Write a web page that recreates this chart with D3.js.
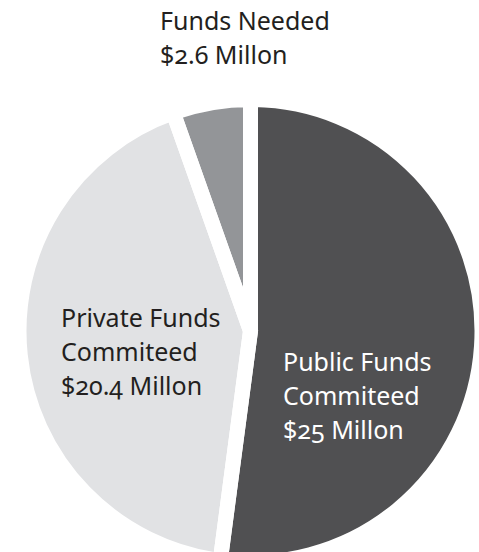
<!DOCTYPE html>
<html>
<head>
<meta charset="utf-8">
<script src="https://cdn.jsdelivr.net/npm/d3@7"></script>
<style>
  html, body { margin: 0; padding: 0; background: #fff; }
  svg text { font-family: "Noto Sans", sans-serif; font-feature-settings: "onum" 1; font-variant-numeric: oldstyle-nums; }
</style>
</head>
<body>
<svg id="chart" width="479" height="552"></svg>
<script>
const categories = ["Public Funds Commiteed", "Private Funds Commiteed", "Funds Needed"];
const values = [25, 20.4, 2.6];
const labelLines = [
  ["Public Funds", "Commiteed", "$25 Millon"],
  ["Private Funds", "Commiteed", "$20.4 Millon"],
  ["Funds Needed", "$2.6 Millon"]
];
const colors = ["#505052", "#e1e2e4", "#939598"];
const textColors = ["#ffffff", "#231f20", "#231f20"];

const svg = d3.select("#chart");
const cx = 250.5, cy = 331, R = 231.5;
const g = svg.append("g").attr("transform", `translate(${cx},${cy})`);

const data = categories.map((c, i) => ({ name: c, value: values[i], i }));
const pie = d3.pie().sort(null).value(d => d.value);
const arc = d3.arc().innerRadius(0).outerRadius(R);
const arcs = pie(data);

g.selectAll("path.fill").data(arcs).join("path")
  .attr("class", "fill")
  .attr("d", arc)
  .attr("fill", d => colors[d.data.i]);
g.selectAll("path.gap").data(arcs).join("path")
  .attr("class", "gap")
  .attr("d", arc)
  .attr("fill", "none")
  .attr("stroke", "#fff")
  .attr("stroke-width", 15)
  .attr("stroke-linejoin", "miter");

// label anchor positions (page coordinates, top-left of first baseline)
const labelPos = [
  { x: 283, y: 371 },
  { x: 61, y: 327 },
  { x: 160, y: 30 }
];
const fontSize = 25, lineH = 34;
labelLines.forEach((lines, i) => {
  const t = svg.append("text")
    .attr("x", labelPos[i].x)
    .attr("y", labelPos[i].y)
    .attr("fill", textColors[i])
    .attr("font-size", fontSize);
  lines.forEach((ln, j) => {
    t.append("tspan").attr("x", labelPos[i].x).attr("dy", j === 0 ? 0 : lineH).text(ln);
  });
});
</script>
</body>
</html>
